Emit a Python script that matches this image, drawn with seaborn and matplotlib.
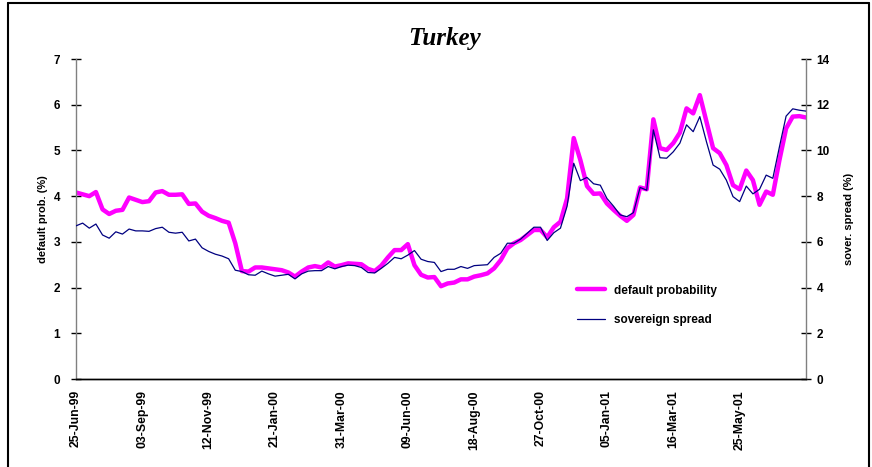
import matplotlib
matplotlib.use("Agg")
import matplotlib.pyplot as plt
from matplotlib.lines import Line2D
import seaborn as sns
import pandas as pd

# ---- data ----
start_date = "1999-06-25"
default_prob = [4.08, 4.04, 4.00, 4.09, 3.71, 3.61, 3.68, 3.70, 3.97, 3.92,
                3.87, 3.89, 4.08, 4.11, 4.03, 4.03, 4.04, 3.83, 3.84, 3.66,
                3.57, 3.52, 3.46, 3.42, 2.97, 2.36, 2.35, 2.44, 2.44, 2.42,
                2.40, 2.38, 2.33, 2.24, 2.35, 2.44, 2.47, 2.44, 2.55, 2.46,
                2.49, 2.53, 2.52, 2.51, 2.41, 2.36, 2.48, 2.66, 2.82, 2.82,
                2.95, 2.49, 2.28, 2.22, 2.23, 2.03, 2.09, 2.11, 2.18, 2.18,
                2.24, 2.27, 2.31, 2.42, 2.60, 2.86, 2.97, 3.04, 3.15, 3.26,
                3.26, 3.10, 3.32, 3.44, 3.95, 5.27, 4.79, 4.22, 4.05, 4.06,
                3.84, 3.70, 3.57, 3.46, 3.59, 4.19, 4.15, 5.68, 5.05, 5.01,
                5.16, 5.39, 5.92, 5.81, 6.21, 5.63, 5.05, 4.94, 4.68, 4.24,
                4.15, 4.56, 4.35, 3.81, 4.10, 4.03, 4.79, 5.48, 5.74, 5.75,
                5.72]
sovereign_spread = [6.70, 6.82, 6.60, 6.78, 6.30, 6.16, 6.44, 6.34, 6.56, 6.48,
                    6.48, 6.46, 6.58, 6.64, 6.42, 6.38, 6.42, 6.04, 6.12, 5.74,
                    5.58, 5.46, 5.38, 5.26, 4.76, 4.70, 4.56, 4.54, 4.72, 4.60,
                    4.50, 4.54, 4.58, 4.38, 4.60, 4.72, 4.74, 4.74, 4.92, 4.82,
                    4.92, 4.98, 4.96, 4.88, 4.66, 4.64, 4.84, 5.06, 5.32, 5.26,
                    5.42, 5.62, 5.24, 5.14, 5.10, 4.70, 4.80, 4.80, 4.92, 4.84,
                    4.96, 4.98, 5.00, 5.32, 5.50, 5.94, 5.94, 6.12, 6.38, 6.64,
                    6.64, 6.06, 6.40, 6.60, 7.56, 9.44, 8.68, 8.82, 8.54, 8.48,
                    7.90, 7.56, 7.18, 7.10, 7.28, 8.38, 8.26, 10.90, 9.68, 9.66,
                    9.94, 10.32, 11.12, 10.82, 11.48, 10.38, 9.36, 9.18, 8.70, 7.98,
                    7.76, 8.44, 8.10, 8.30, 8.92, 8.78, 10.16, 11.50, 11.82, 11.76,
                    11.72]
left_ticks = [0, 1, 2, 3, 4, 5, 6, 7]
right_ticks = [0, 2, 4, 6, 8, 10, 12, 14]

dates = pd.date_range(start_date, periods=len(default_prob), freq="7D")
df = pd.DataFrame({"date": dates, "dp": default_prob, "ss": sovereign_spread})

sns.set_style("white")
plt.rcParams["font.family"] = ["Liberation Sans", "DejaVu Sans"]
plt.rcParams["font.weight"] = "bold"
plt.rcParams["text.color"] = "black"
plt.rcParams["axes.labelcolor"] = "black"
plt.rcParams["xtick.color"] = "black"
plt.rcParams["ytick.color"] = "black"

fig = plt.figure(figsize=(8.72, 4.67), dpi=100)
ax = fig.add_axes([76/872, 1-379/467, (806-76)/872, (379-59)/467])
ax2 = ax.twinx()

PINK = "#FF00FF"
NAVY = "#000080"

sns.lineplot(data=df, x="date", y="dp", ax=ax, color=PINK, linewidth=3.2, zorder=2)
sns.lineplot(data=df, x="date", y="ss", ax=ax2, color=NAVY, linewidth=0.9, zorder=3)

ax.set_ylim(0, 7)
ax2.set_ylim(0, 14)
ax.set_yticks(left_ticks)
ax2.set_yticks(right_ticks)
ax.set_xlim(dates[0], dates[-1])

tick_dates = dates[::10]
ax.set_xticks(tick_dates)
labels = [d.strftime("%d-%b-%y") for d in tick_dates]
labels[-1] = ""
ax.set_xticklabels(labels, rotation=90, fontsize=8.8, fontweight="bold")

for a in (ax, ax2):
    a.grid(False)
    a.set_xlabel("")
    a.spines["top"].set_visible(False)
    for s in ("left", "right"):
        a.spines[s].set_color("#808080")
        a.spines[s].set_linewidth(1.0)
    a.spines["bottom"].set_color("#000000")
    a.spines["bottom"].set_linewidth(1.0)
    a.tick_params(axis="y", labelsize=8.5, direction="inout", length=7, width=1.0,
                  colors="#000000", pad=4)
ax.tick_params(axis="x", direction="inout", length=8, width=1.0, colors="#000000", pad=4)
ax.tick_params(axis="y", left=True, right=False, pad=8)
ax2.tick_params(axis="y", right=True, left=False)
ax2.spines["left"].set_visible(False)
ax.spines["right"].set_visible(False)
for lbl in ax.get_yticklabels() + ax2.get_yticklabels():
    lbl.set_fontweight("bold")

ax.set_ylabel("default prob. (%)", fontsize=8, fontweight="bold", labelpad=4)
ax2.set_ylabel("sover. spread (%)", fontsize=8, fontweight="bold", rotation=90, labelpad=10)

fig.text(445/872, 1-38/467, "Turkey", ha="center", va="center",
         family=["Liberation Serif", "DejaVu Serif"], fontsize=18,
         fontweight="bold", style="italic", color="black")

handles = [Line2D([0], [0], color=PINK, linewidth=3.2),
           Line2D([0], [0], color=NAVY, linewidth=0.9)]
ax.legend(handles, ["default probability", "sovereign spread"],
          loc="upper left", bbox_to_anchor=(490/730, 1-(274-59)/320),
          frameon=False, prop={"weight": "bold", "size": 8.5},
          handlelength=2.4, labelspacing=1.45)

# figure frame
fig.add_artist(Line2D([8/872, 8/872], [0, 1-3/467], color="black", linewidth=1.5, transform=fig.transFigure))
fig.add_artist(Line2D([8/872, 869/872], [1-3/467, 1-3/467], color="black", linewidth=1.5, transform=fig.transFigure))
fig.add_artist(Line2D([869/872, 869/872], [0, 1-3/467], color="black", linewidth=1.5, transform=fig.transFigure))

fig.savefig("out.png", dpi=100)
